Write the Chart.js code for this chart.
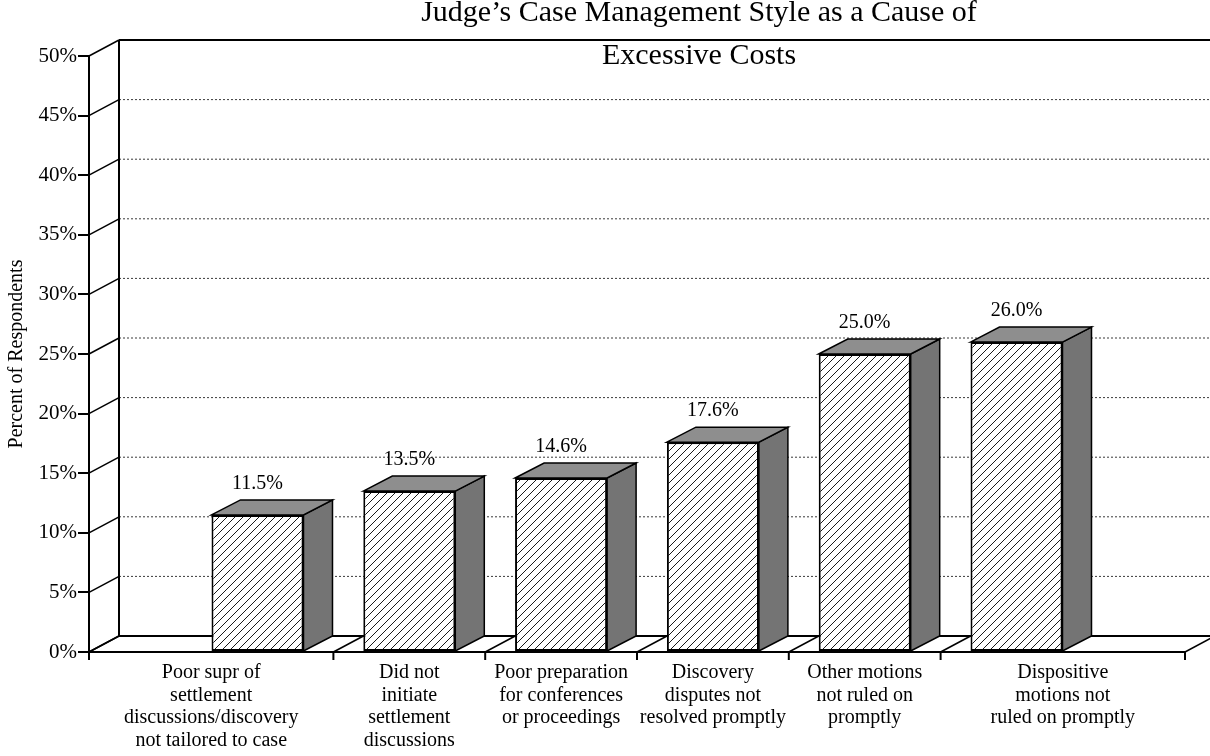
<!DOCTYPE html>
<html>
<head>
<meta charset="utf-8">
<title>Judge's Case Management Style as a Cause of Excessive Costs</title>
<script src="https://cdn.jsdelivr.net/npm/chart.js@4.4.1/dist/chart.umd.min.js"></script>
<style>
  html, body { margin: 0; padding: 0; background: #fff; }
  #wrap { width: 1210px; height: 756px; position: relative; }
</style>
</head>
<body>
<div id="wrap"><canvas id="costChart"></canvas></div>
<script>
const chartTitle = ['Judge\u2019s Case Management Style as a Cause of', 'Excessive Costs'];
const yAxisTitle = 'Percent of Respondents';

const categories = [
    ['Poor supr of', 'settlement', 'discussions/discovery', 'not tailored to case'],
    ['Did not', 'initiate', 'settlement', 'discussions'],
    ['Poor preparation', 'for conferences', 'or proceedings'],
    ['Discovery', 'disputes not', 'resolved promptly'],
    ['Other motions', 'not ruled on', 'promptly'],
    ['Dispositive', 'motions not', 'ruled on promptly']
];
const percents = [11.5, 13.5, 14.6, 17.6, 25.0, 26.0];
const yTicks = [0, 5, 10, 15, 20, 25, 30, 35, 40, 45, 50];

const serif = '"Liberation Serif", "Times New Roman", serif';
const wallDx = 30, wallDy = 16;     // depth of the back wall
const barDx = 29, barDy = 15;       // depth of each bar
const sidePad = 1.11;               // empty room left/right of the outer bars

// category boundaries (tick marks) and the middle of each slot (labels)
const xMin = -sidePad;
const xMax = percents.length - 1 + sidePad;
const bounds = [xMin];
for (let i = 0; i < percents.length - 1; i++) bounds.push(i + 0.5);
bounds.push(xMax);
const labelPos = categories.map((c, i) => (bounds[i] + bounds[i + 1]) / 2);

const canvas = document.getElementById('costChart');
const ctx = canvas.getContext('2d');

function makeHatch() {
    const s = 8;
    const c = document.createElement('canvas');
    c.width = s; c.height = s;
    const g = c.getContext('2d');
    g.fillStyle = '#fff';
    g.fillRect(0, 0, s, s);
    g.strokeStyle = '#1a1a1a';
    g.lineWidth = 1;
    g.beginPath();
    g.moveTo(-1, s + 1); g.lineTo(s + 1, -1);
    g.moveTo(-1, 1); g.lineTo(1, -1);
    g.moveTo(s - 1, s + 1); g.lineTo(s + 1, s - 1);
    g.stroke();
    return ctx.createPattern(c, 'repeat');
}

function seg(c, x1, y1, x2, y2) {
    c.beginPath();
    c.moveTo(x1, y1);
    c.lineTo(x2, y2);
    c.stroke();
}

const depthPlugin = {
    id: 'depth3d',
    beforeDatasetsDraw(chart) {
        const c = chart.ctx;
        const a = chart.chartArea;
        const x = chart.scales.x, y = chart.scales.y;
        const wallLeft = a.left + wallDx;
        const far = chart.width + 10;
        c.save();
        c.strokeStyle = '#000';

        // back wall grid + left wall slants
        yTicks.forEach((v, i) => {
            const py = y.getPixelForValue(v);
            c.setLineDash([]);
            c.lineWidth = 1.5;
            seg(c, a.left, py, wallLeft, py - wallDy);
            if (i === 0 || i === yTicks.length - 1) {
                c.lineWidth = 2;
                seg(c, wallLeft, py - wallDy, far, py - wallDy);
            } else {
                c.strokeStyle = '#3a3a3a';
                c.lineWidth = 1;
                c.setLineDash([2, 2]);
                seg(c, wallLeft, py - wallDy, far, py - wallDy);
                c.strokeStyle = '#000';
            }
        });
        c.setLineDash([]);
        c.lineWidth = 2;
        seg(c, wallLeft, y.getPixelForValue(yTicks[yTicks.length - 1]) - wallDy,
               wallLeft, y.getPixelForValue(0) - wallDy);

        // floor lines going back from each category boundary
        c.lineWidth = 1.5;
        bounds.forEach(b => {
            const px = x.getPixelForValue(b);
            seg(c, px, a.bottom, px + wallDx, a.bottom - wallDy);
        });

        // top and side faces of the bars
        const meta = chart.getDatasetMeta(0);
        meta.data.forEach(bar => {
            const p = bar.getProps(['x', 'y', 'base', 'width'], true);
            const L = p.x - p.width / 2, R = p.x + p.width / 2;
            c.lineWidth = 1.5;
            c.fillStyle = '#747474';
            c.beginPath();
            c.moveTo(R, p.y);
            c.lineTo(R + barDx, p.y - barDy);
            c.lineTo(R + barDx, p.base - barDy);
            c.lineTo(R, p.base);
            c.closePath();
            c.fill();
            c.stroke();
            c.fillStyle = '#8e8e8e';
            c.beginPath();
            c.moveTo(L, p.y);
            c.lineTo(L + barDx, p.y - barDy);
            c.lineTo(R + barDx, p.y - barDy);
            c.lineTo(R, p.y);
            c.closePath();
            c.fill();
            c.stroke();
        });
        c.restore();
    },
    afterDatasetsDraw(chart) {
        const c = chart.ctx;
        const a = chart.chartArea;
        const x = chart.scales.x;
        c.save();
        c.strokeStyle = '#000';
        c.lineWidth = 2;
        bounds.forEach(b => {
            const px = x.getPixelForValue(b);
            seg(c, px, a.bottom, px, a.bottom + 8);
        });

        c.fillStyle = '#000';
        c.font = '20px ' + serif;
        c.textAlign = 'center';
        c.textBaseline = 'middle';
        chart.getDatasetMeta(0).data.forEach((bar, i) => {
            c.fillText(percents[i].toFixed(1) + '%', bar.x, bar.y - 31);
        });
        c.restore();
    },
    afterDraw(chart) {
        const c = chart.ctx;
        c.save();
        c.fillStyle = '#000';
        c.font = '30px ' + serif;
        c.textAlign = 'center';
        c.textBaseline = 'alphabetic';
        c.fillText(chartTitle[0], 699, 21);
        c.fillText(chartTitle[1], 699, 64);
        c.restore();
    }
};

new Chart(ctx, {
    type: 'bar',
    data: {
        datasets: [{
            label: 'Percent of Respondents',
            data: percents.map((v, i) => ({ x: i, y: v })),
            backgroundColor: makeHatch(),
            borderColor: '#000',
            borderWidth: 2,
            borderSkipped: false,
            categoryPercentage: 1,
            barPercentage: 0.606
        }]
    },
    options: {
        responsive: true,
        maintainAspectRatio: false,
        animation: false,
        layout: {
            padding: { top: 56, right: 25, bottom: 0, left: 0 }
        },
        scales: {
            x: {
                type: 'linear',
                min: xMin,
                max: xMax,
                offset: false,
                grid: { display: false, drawTicks: false },
                border: { display: true, color: '#000', width: 2 },
                afterBuildTicks: s => { s.ticks = labelPos.map(v => ({ value: v })); },
                afterFit: s => { s.height = 104; },
                ticks: {
                    autoSkip: false,
                    maxRotation: 0,
                    padding: 10,
                    color: '#000',
                    font: { family: serif, size: 20, lineHeight: 1.12 },
                    callback: (v, i) => categories[i]
                }
            },
            y: {
                min: 0,
                max: 50,
                afterBuildTicks: s => { s.ticks = yTicks.map(v => ({ value: v })); },
                afterFit: s => { s.width = 89; },
                grid: { drawOnChartArea: false, drawTicks: true, tickLength: 11, color: '#000', lineWidth: 2 },
                border: { display: true, color: '#000', width: 2 },
                ticks: {
                    padding: 1,
                    color: '#000',
                    font: { family: serif, size: 21 },
                    callback: v => v + '%'
                },
                title: {
                    display: true,
                    text: yAxisTitle,
                    color: '#000',
                    font: { family: serif, size: 20 },
                    padding: { top: 5, bottom: 0 }
                }
            }
        },
        plugins: {
            legend: { display: false },
            tooltip: { enabled: false },
            title: { display: false }
        }
    },
    plugins: [depthPlugin]
});
</script>
</body>
</html>
